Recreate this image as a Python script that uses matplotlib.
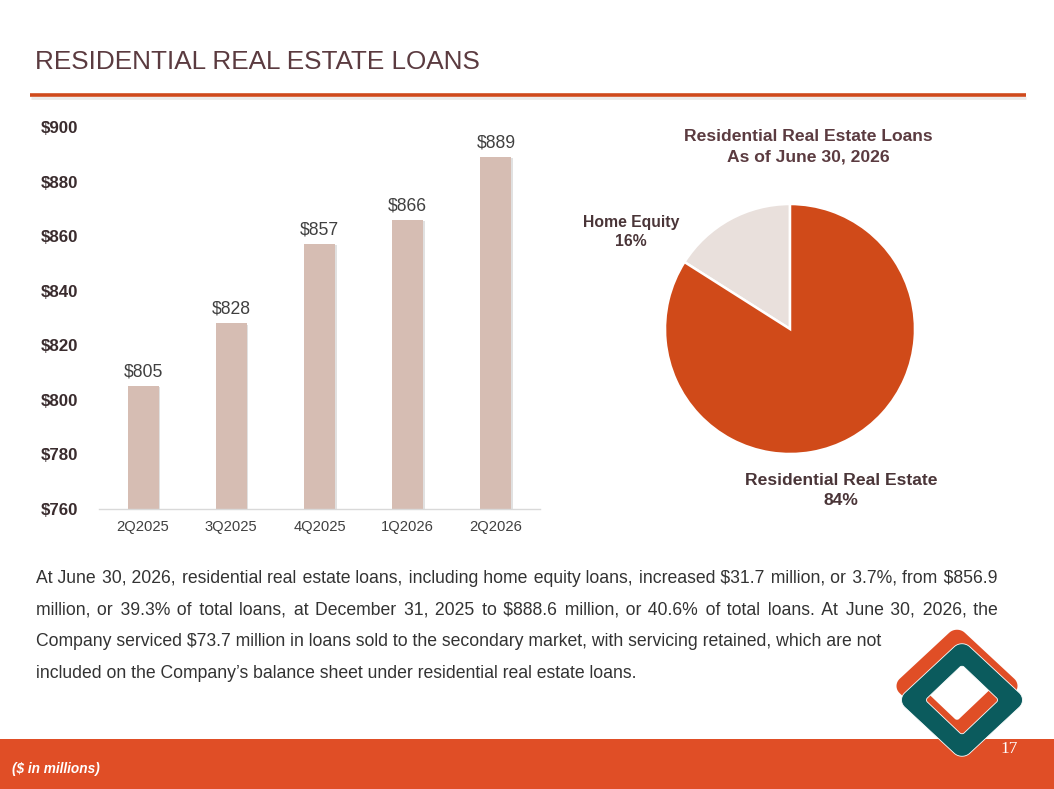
import matplotlib
matplotlib.use("Agg")
import matplotlib.pyplot as plt
import numpy as np
from matplotlib.patches import Rectangle, PathPatch
from matplotlib.path import Path
from matplotlib.lines import Line2D
import matplotlib.patheffects as pe

# ---------------- data ----------------
quarters = ["2Q2025", "3Q2025", "4Q2025", "1Q2026", "2Q2026"]
loans = [805, 828, 857, 866, 889]
bar_labels = ["$805", "$828", "$857", "$866", "$889"]
y_ticks = [760, 780, 800, 820, 840, 860, 880, 900]
y_tick_labels = ["$760", "$780", "$800", "$820", "$840", "$860", "$880", "$900"]
pie_names = ["Home Equity", "Residential Real Estate"]
pie_shares = [16, 84]

title = "RESIDENTIAL REAL ESTATE LOANS"
pie_title = "Residential Real Estate Loans\nAs of June 30, 2026"
para_lines = [
    "At June 30, 2026, residential real estate loans, including home equity loans, increased $31.7 million, or 3.7%, from $856.9",
    "million, or 39.3% of total loans, at December 31, 2025 to $888.6 million, or 40.6% of total loans. At June 30, 2026, the",
    "Company serviced $73.7 million in loans sold to the secondary market, with servicing retained, which are not",
    "included on the Company\u2019s balance sheet under residential real estate loans.",
]
para_justify = [True, True, False, False]
footnote = "($ in millions)"
page_no = "17"

# ---------------- style ----------------
W, H = 1054, 789
plt.rcParams['font.family'] = ['Liberation Sans', 'DejaVu Sans']

TITLE_C = '#5b3b40'
TEXT_C = '#333333'
BAR_C = '#d6bdb3'
PIE_ORANGE = '#d04a19'
PIE_LIGHT = '#e9e0dc'
BAND_C = '#e04e26'
TEAL = '#0b5b5d'

fig = plt.figure(figsize=(W / 100, H / 100), dpi=100)
fig.patch.set_facecolor('white')


def fx(px):
    return px / W


def fy(py):
    return 1 - py / H


# title + rule
fig.text(fx(35), fy(62), title, fontsize=18.8, color=TITLE_C, va='center', ha='left')
fig.add_artist(Line2D([fx(31), fx(1026)], [fy(97.5), fy(97.5)], lw=2.0,
                      color='#ecebea', transform=fig.transFigure, solid_capstyle='butt'))
fig.add_artist(Line2D([fx(30), fx(1026)], [fy(95), fy(95)], lw=2.6,
                      color='#cf4a1c', transform=fig.transFigure, solid_capstyle='butt'))

# ---------------- bar chart ----------------
ax_l, ax_r, ax_b, ax_t = 99, 540, 509, 127
ax = fig.add_axes([fx(ax_l), fy(ax_b), (ax_r - ax_l) / W, (ax_b - ax_t) / H])
x = np.arange(len(quarters))
bars = ax.bar(x, loans, width=0.35, color=BAR_C, zorder=2)
for b in bars:
    b.set_path_effects([pe.SimplePatchShadow(offset=(1.2, -0.8), alpha=0.22, shadow_rgbFace='#777777'),
                        pe.Normal()])
ax.set_xlim(-0.5, len(quarters) - 0.5)
ax.set_ylim(760, 900)
ax.set_yticks(y_ticks)
ax.set_yticklabels(y_tick_labels, fontsize=12.2, fontweight='bold', color='#3a2c2e')
ax.set_xticks(x)
ax.set_xticklabels(quarters, fontsize=10.6, color='#404040')
ax.tick_params(axis='y', length=0, pad=15)
ax.tick_params(axis='x', length=0, pad=8)
for s in ['top', 'right', 'left']:
    ax.spines[s].set_visible(False)
ax.spines['bottom'].set_color('#d9d9d9')
ax.spines['bottom'].set_linewidth(1)
ax.set_facecolor('none')
for xi, v, lab in zip(x, loans, bar_labels):
    ax.annotate(lab, (xi, v), xytext=(0, 7), textcoords='offset points',
                ha='center', va='baseline', fontsize=12.7, color='#404040')

# ---------------- pie ----------------
pcx, pcy, pr = 790, 329, 125
S = 2 * pr * 1.03
pax = fig.add_axes([fx(pcx - S / 2), fy(pcy + S / 2), S / W, S / H])
pax.pie(pie_shares, colors=[PIE_LIGHT, PIE_ORANGE], startangle=90, counterclock=True,
        wedgeprops=dict(edgecolor='white', linewidth=1.8))
pax.set_xlim(-1.03, 1.03)
pax.set_ylim(-1.03, 1.03)
pax.set_aspect('equal')

fig.text(fx(808), fy(140.7), pie_title.split("\n")[0], fontsize=12.6, fontweight='bold',
         color=TITLE_C, ha='center', va='baseline')
fig.text(fx(808), fy(161), pie_title.split("\n")[1], fontsize=12.6, fontweight='bold',
         color=TITLE_C, ha='center', va='baseline')
fig.text(fx(631), fy(226.7), pie_names[0], fontsize=11.3, fontweight='bold',
         color='#4a3538', ha='center', va='baseline')
fig.text(fx(631), fy(245.5), f"{pie_shares[0]}%", fontsize=11.3, fontweight='bold',
         color='#4a3538', ha='center', va='baseline')
fig.text(fx(841), fy(485), pie_names[1], fontsize=12.6, fontweight='bold',
         color='#4a3538', ha='center', va='baseline')
fig.text(fx(841), fy(504.5), f"{pie_shares[1]}%", fontsize=12.6, fontweight='bold',
         color='#4a3538', ha='center', va='baseline')

# ---------------- paragraph (justified with hair spaces, one text per line) ----------------
renderer = fig.canvas.get_renderer()
PFS = 12.7
x0, x1 = 36, 997
baselines = [583, 614.5, 646, 677.5]

probe = fig.text(0, 0, "", fontsize=PFS, parse_math=False)


def text_w(s):
    probe.set_text(s)
    return probe.get_window_extent(renderer=renderer).width


HS = '\u200a'
w_h = (text_w('a' + HS * 10 + 'a') - text_w('aa')) / 10.0
if w_h < 0.3:
    HS = '\u2009'
    w_h = (text_w('a' + HS * 10 + 'a') - text_w('aa')) / 10.0

for line, just, yb in zip(para_lines, para_justify, baselines):
    t = fig.text(fx(x0), fy(yb), line, fontsize=PFS, color=TEXT_C, ha='left', va='baseline',
                 parse_math=False)
    if not just or w_h <= 0:
        continue
    words = line.split(' ')
    n = len(words) - 1
    natural = text_w(line)
    total_k = max(0.0, (x1 - x0 - natural) / w_h)
    s = words[0]
    for i in range(n):
        k = int(round((i + 1) * total_k / n)) - int(round(i * total_k / n))
        s += ' ' + HS * k + words[i + 1]
    t.set_text(s)
probe.set_visible(False)

# ---------------- footer band ----------------
fig.add_artist(Rectangle((0, 0), 1, fy(739), transform=fig.transFigure,
                         facecolor=BAND_C, edgecolor='none', zorder=1))
fig.text(fx(12), fy(769), footnote, fontsize=9.8, fontweight='bold', fontstyle='italic',
         color='white', ha='left', va='center', zorder=10, parse_math=False)
fig.text(fx(1009), fy(753), page_no, fontsize=12.5, color='white',
         family=['Liberation Serif', 'DejaVu Serif'], ha='center', va='baseline', zorder=10)

# ---------------- logo ----------------
lax = fig.add_axes([fx(870), fy(775), 170 / W, 160 / H], zorder=5)
lax.set_xlim(870, 1040)
lax.set_ylim(775, 615)
lax.axis('off')
lax.set_facecolor('none')


def rsq(cx, cy, half, r, sy=1.0, n=14, reverse=False):
    pts = []
    corners = [(half - r, half - r, 0), (-(half - r), half - r, 90),
               (-(half - r), -(half - r), 180), (half - r, -(half - r), 270)]
    for ccx, ccy, a0 in corners:
        t = np.radians(np.linspace(a0, a0 + 90, n))
        pts.extend(zip(ccx + r * np.cos(t), ccy + r * np.sin(t)))
    pts = np.array(pts)
    xr = (pts[:, 0] - pts[:, 1]) / np.sqrt(2)
    yr = (pts[:, 0] + pts[:, 1]) / np.sqrt(2) * sy
    out = np.column_stack([cx + xr, cy + yr])
    if reverse:
        out = out[::-1]
    return out


def ring(cx, cy, color, ec='none', lw=0):
    outer = rsq(cx, cy, 46, 11, sy=0.93)
    inner = rsq(cx, cy, 26, 3, sy=0.95, reverse=True)
    verts = np.vstack([outer, outer[:1], inner, inner[:1]])
    codes = ([Path.MOVETO] + [Path.LINETO] * (len(outer) - 1) + [Path.CLOSEPOLY] +
             [Path.MOVETO] + [Path.LINETO] * (len(inner) - 1) + [Path.CLOSEPOLY])
    lax.add_patch(PathPatch(Path(verts, codes), facecolor=color, edgecolor=ec, lw=lw))


ring(957, 686, BAND_C)
ring(962, 700, TEAL, ec='white', lw=0.6)

fig.savefig("out.png", dpi=100)
